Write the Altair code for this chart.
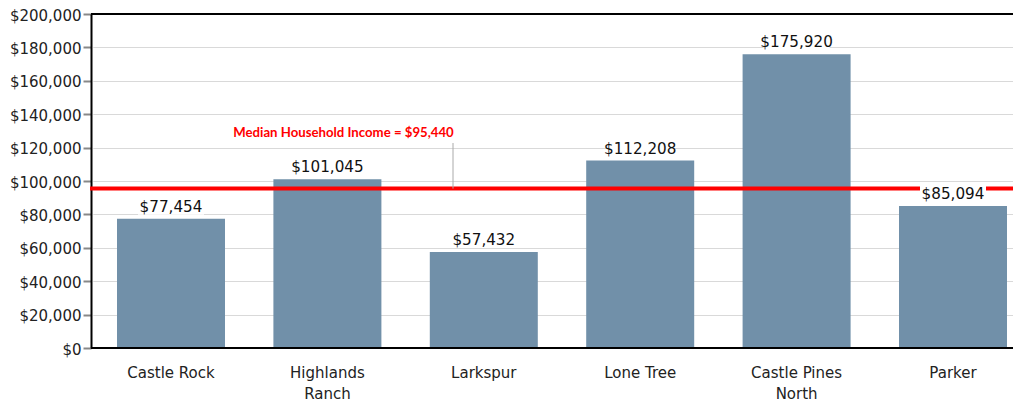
import altair as alt
import pandas as pd

cities = ["Castle Rock", "Highlands|Ranch", "Larkspur", "Lone Tree", "Castle Pines|North", "Parker"]
incomes = [77454, 101045, 57432, 112208, 175920, 85094]
median_value = 95440
median_label = ["Median Household Income = $95,440"]

df = pd.DataFrame({"city": cities, "income": incomes})
df["label"] = ["${:,}".format(v) for v in incomes]

FONT = "DejaVu Sans"
W, H = 922, 334

x_scale = alt.Scale(paddingInner=0, paddingOuter=0, range=[1.8, 940.2])
x_axis = alt.Axis(labelExpr="split(datum.label, '|')", labelAngle=0, ticks=False,
                  domain=False, labelFontSize=15, labelColor="#222", labelFont=FONT,
                  labelPadding=17, labelLineHeight=21, grid=False)
y_scale = alt.Scale(domain=[0, 200000], nice=False)
y_axis = alt.Axis(values=list(range(0, 200001, 20000)), format="$,.0f",
                  labelFontSize=15, labelColor="#222", labelFont=FONT, labelOverlap=False,
                  labelOffset=1,
                  tickColor="#888", tickSize=8, tickWidth=2, labelPadding=2,
                  domainColor="black", domainWidth=2, grid=True,
                  gridColor="#d9d9d9", gridWidth=1.2)

xs = alt.X("city:N", sort=cities, scale=x_scale, title=None, axis=x_axis)
ys = alt.Y("income:Q", scale=y_scale, title=None, axis=y_axis)

base = alt.Chart(df)
bars = base.mark_bar(color="#7190a9", size=108).encode(x=xs, y=ys)

label_bg = base.mark_bar(color="white", size=66, yOffset=-4, y2Offset=-21).encode(
    x=xs, y=ys, y2="income:Q")

labels = base.mark_text(fontSize=15.2, font=FONT, color="#111", dy=-12).encode(
    x=xs, y=ys, text="label:N")

median_df = pd.DataFrame({"v": [median_value]})
median_rule = alt.Chart(median_df).mark_rule(color="#ff0000", strokeWidth=4).encode(
    y=alt.Y("v:Q", scale=y_scale, title=None, axis=y_axis), x=alt.value(-1), x2=alt.value(W))

connector = alt.Chart(median_df).mark_rule(color="#aaaaaa", strokeWidth=1).encode(
    x=alt.value(362), y=alt.Y("v:Q", scale=y_scale, title=None, axis=y_axis), y2=alt.value(129))

ann_df = pd.DataFrame({"t": median_label, "yv": [129000]})
annotation = alt.Chart(ann_df).mark_text(fontSize=13.2, font="Lato", fontWeight="bold",
                                         color="#ff0000").encode(
    x=alt.value(252.5), y=alt.Y("yv:Q", scale=y_scale, title=None, axis=y_axis), text="t:N")

edge_df = pd.DataFrame({"v": [200000, 0]})
edge_rules = alt.Chart(edge_df).mark_rule(color="black", strokeWidth=2).encode(
    y=alt.Y("v:Q", scale=y_scale, title=None, axis=y_axis), x=alt.value(0), x2=alt.value(W))

chart = alt.layer(bars, edge_rules, median_rule, connector, label_bg, labels, annotation).properties(
    width=W, height=H,
    autosize=alt.AutoSizeParams(type="none"),
    padding={"left": 83, "top": 6, "right": 0, "bottom": 56},
).configure_view(stroke=None)

chart.save("out.html", embed_options={"renderer": "svg", "actions": False})
